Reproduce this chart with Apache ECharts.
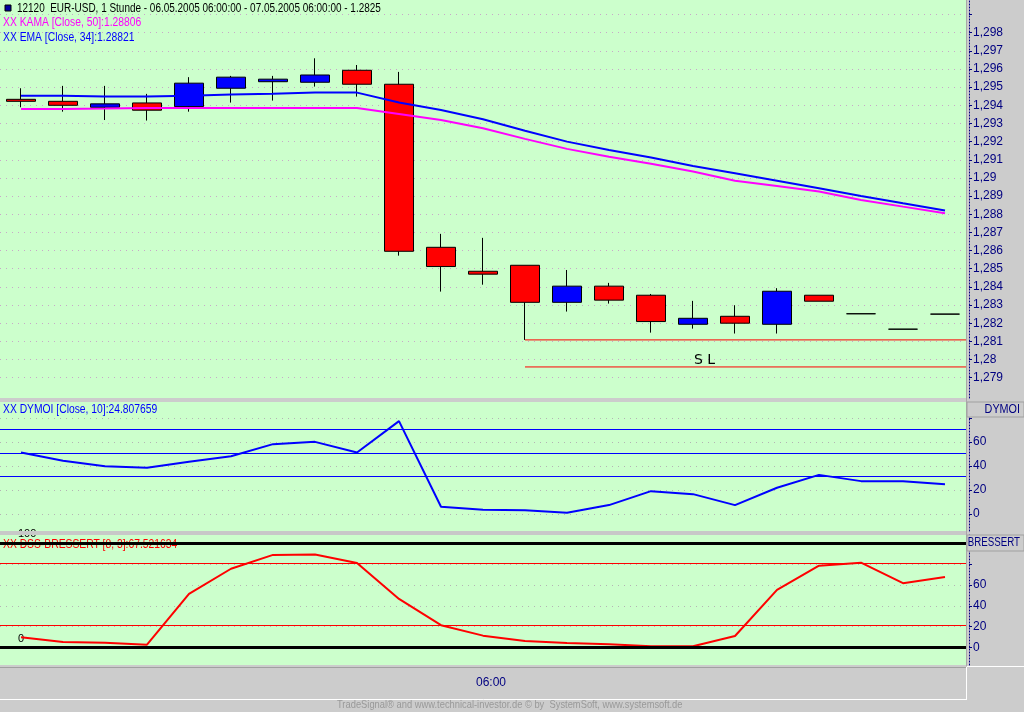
<!DOCTYPE html>
<html><head><meta charset="utf-8">
<script src="https://cdn.jsdelivr.net/npm/echarts@6/dist/echarts.min.js"></script>
<style>html,body{margin:0;padding:0;background:#cccccc;}#c{width:1024px;height:712px;}</style>
</head><body><div id="c"></div>
<script>
const categories = ['19:00','20:00','21:00','22:00','23:00','00:00','01:00','02:00','03:00','04:00','05:00','06:00','07:00','08:00','09:00','10:00','11:00','12:00','13:00','14:00','15:00','16:00','17:00'];
const opens  = [1.29433,1.29422,1.29389,1.29413,1.29393,1.29494,1.29530,1.29527,1.29593,1.29516,1.28618,1.28486,1.28519,1.28315,1.28404,1.28354,1.28194,1.28238,1.28194,1.28354,1.28252,1.28167,1.28250];
const closes = [1.29422,1.29400,1.29408,1.29373,1.29522,1.29555,1.29544,1.29567,1.29516,1.28596,1.28512,1.28470,1.28315,1.28404,1.28327,1.28209,1.28227,1.28200,1.28376,1.28321,1.28252,1.28167,1.28250];
const lows   = [1.29389,1.29365,1.29319,1.29316,1.29365,1.29415,1.29426,1.29503,1.29448,1.28572,1.28374,1.28412,1.28108,1.28264,1.28308,1.28148,1.28170,1.28143,1.28143,1.28321,1.28252,1.28167,1.28250];
const highs  = [1.29494,1.29507,1.29507,1.29463,1.29555,1.29562,1.29562,1.29659,1.29622,1.29584,1.28692,1.28670,1.28519,1.28493,1.28422,1.28361,1.28323,1.28299,1.28393,1.28354,1.28252,1.28167,1.28250];
const emaValues  = [1.29453,1.29453,1.29448,1.29448,1.29453,1.29459,1.29464,1.29470,1.29470,1.29416,1.29374,1.29323,1.29260,1.29200,1.29154,1.29112,1.29066,1.29026,1.28985,1.28943,1.28901,1.28860,1.28821];
const kamaValues = [1.29380,1.29380,1.29382,1.29385,1.29385,1.29385,1.29385,1.29385,1.29385,1.29352,1.29319,1.29274,1.29215,1.29160,1.29117,1.29078,1.29035,1.28985,1.28956,1.28925,1.28879,1.28842,1.28806];
const dymoiValues = [51.2,44.3,39.8,38.5,43.4,48.1,58.1,60.0,51.2,77.2,6.1,3.6,3.3,1.1,7.5,19.1,16.6,7.5,21.9,32.6,27.4,27.4,24.81];
const dssValues = [10.0,5.4,4.8,2.9,51.3,75.3,88.5,88.8,80.8,46.5,21.5,11.5,6.4,4.5,3.2,1.3,1.3,11.2,55.1,78.2,81.1,61.5,67.52];
const priceTicks = [1.279,1.28,1.281,1.282,1.283,1.284,1.285,1.286,1.287,1.288,1.289,1.29,1.291,1.292,1.293,1.294,1.295,1.296,1.297,1.298,1.299];
const priceLabels = [1.279,1.28,1.281,1.282,1.283,1.284,1.285,1.286,1.287,1.288,1.289,1.29,1.291,1.292,1.293,1.294,1.295,1.296,1.297,1.298];
const dymoiTicks = [0,20,40,60,80];
const dymoiLabels = [0,20,40,60];
const dymoiLevels = [70.3,50.3,31.3];
const dssTicks = [0,20,40,60,80,100];
const dssLabels = [0,20,40,60];
const dssBounds = [0,100];
const dssLevels = [21.2,80.3];
const slLevels = [1.28108,1.27959];
const slStart = 12.5;

const FONT = '"Liberation Sans", Arial, sans-serif';
const NAVY = '#000080';
const chart = echarts.init(document.getElementById('c'));
const candleData = categories.map((c,i)=>[opens[i],closes[i],lows[i],highs[i]]);
const priceFmt = v => v.toFixed(3).replace(/0+$/,'').replace(/\.$/,'').replace('.',',');

function rightAxis(gi, min, max, ticks, labels, fmt, gridColor){
  return {
    gridIndex: gi, type:'value', position:'right', offset:3, min, max,
    axisLine:{show:true, onZero:false, lineStyle:{color:NAVY, width:1, type:[1,2]}},
    axisTick:{show:true, length:3, customValues:ticks, lineStyle:{color:NAVY}},
    axisLabel:{customValues:labels, formatter:fmt, color:NAVY, fontSize:12, fontFamily:FONT, margin:4},
    splitLine:{show:true, lineStyle:{color:gridColor, width:1, type:[1,5]}}
  };
}
function txt(x,y,text,fill,size,opts){
  return Object.assign({type:'text', x, y, z:5, style:{text, fill, font: size+'px '+FONT, textAlign:'left', textVerticalAlign:'middle'}}, opts||{});
}

const option = {
  animation:false,
  backgroundColor:'#cccccc',
  grid:[
    {left:0, top:0, width:966, height:398, show:true, backgroundColor:'#ccffcc', borderWidth:0},
    {left:0, top:402, width:966, height:129, show:true, backgroundColor:'#ccffcc', borderWidth:0},
    {left:0, top:535, width:966, height:130, show:true, backgroundColor:'#ccffcc', borderWidth:0}
  ],
  xAxis:[
    {gridIndex:0, type:'category', data:categories, show:false, boundaryGap:true},
    {gridIndex:0, type:'value', min:0, max:categories.length, show:false},
    {gridIndex:1, type:'category', data:categories, show:false, boundaryGap:true},
    {gridIndex:2, type:'category', data:categories, show:false, boundaryGap:true}
  ],
  yAxis:[
    rightAxis(0, 1.27788, 1.2998, priceTicks, priceLabels, priceFmt, '#c8a8c8'),
    rightAxis(1, -14, 93.1, dymoiTicks, dymoiLabels, v=>String(v), '#b4b4b4'),
    rightAxis(2, -16.5, 107.5, dssTicks, dssLabels, v=>String(v), '#b4b4b4')
  ],
  series:[
    {type:'candlestick', xAxisIndex:0, yAxisIndex:0, data:candleData, barWidth:30,
     itemStyle:{color:'#0000ff', color0:'#ff0000', borderColor:'#000000', borderColor0:'#000000', borderColorDoji:'#000000', borderWidth:1}},
    ...slLevels.map(v=>({type:'line', xAxisIndex:1, yAxisIndex:0, data:[[slStart,v],[categories.length,v]], showSymbol:false, symbol:'none', lineStyle:{color:'#ff0000', width:1}, z:3})),
    {type:'line', xAxisIndex:0, yAxisIndex:0, data:kamaValues, showSymbol:false, symbol:'none', lineStyle:{color:'#ff00ff', width:2}, z:4},
    {type:'line', xAxisIndex:0, yAxisIndex:0, data:emaValues, showSymbol:false, symbol:'none', lineStyle:{color:'#0000ff', width:2}, z:5},
    {type:'line', xAxisIndex:2, yAxisIndex:1, data:dymoiValues, showSymbol:false, symbol:'none', lineStyle:{color:'#0000ff', width:2}, z:4,
     markLine:{silent:true, symbol:'none', label:{show:false}, data:dymoiLevels.map(v=>({yAxis:v, lineStyle:{color:'#0000ff', width:1, type:'solid'}}))}},
    {type:'line', xAxisIndex:3, yAxisIndex:2, data:dssValues, showSymbol:false, symbol:'none', lineStyle:{color:'#ff0000', width:2}, z:4,
     markLine:{silent:true, symbol:'none', label:{show:false}, data:[
       ...dssBounds.map(v=>({yAxis:v, lineStyle:{color:'#000000', width:3, type:'solid'}})),
       ...dssLevels.map(v=>({yAxis:v, lineStyle:{color:'#ff0000', width:1, type:'solid'}}))
     ]}}
  ],
  graphic:{elements:[
    {type:'rect', shape:{x:5,y:5,width:6,height:6}, style:{fill:'#0000a0', stroke:'#000', lineWidth:1}, z:5},
    txt(17, 9, '12120  EUR-USD, 1 Stunde - 06.05.2005 06:00:00 - 07.05.2005 06:00:00 - 1.2825', '#000000', 12, {scaleX:0.83}),
    txt(3, 23, 'XX KAMA [Close, 50]:1.28806', '#ff00ff', 12, {scaleX:0.86}),
    txt(3, 38, 'XX EMA [Close, 34]:1.28821', '#0000ff', 12, {scaleX:0.86}),
    txt(3, 410, 'XX DYMOI [Close, 10]:24.807659', '#0000ff', 12, {scaleX:0.86}),
    Object.assign(txt(3, 545, 'XX DSS-BRESSERT [8, 3]:67.521634', '#ff0000', 12, {scaleX:0.86}), {z:1}),
    Object.assign(txt(18, 534, '100', '#000000', 11), {z:1}),
    Object.assign(txt(18, 639, '0', '#000000', 11), {z:1}),
    {type:'rect', shape:{x:0,y:531,width:966,height:4}, style:{fill:'#c8c8c8'}, z:50},
    {type:'text', x:694, y:367, z:5, style:{text:'S L', fill:'#000', font:'14px "DejaVu Sans", sans-serif', textAlign:'left', textVerticalAlign:'bottom'}},
    {type:'line', shape:{x1:966.5,y1:0,x2:966.5,y2:666}, style:{stroke:'#a8a8a8', lineWidth:1}, z:50},
    {type:'rect', shape:{x:967,y:402,width:57,height:15}, style:{fill:'#cccccc', stroke:'#a0a0a0', lineWidth:1}, z:50},
    {type:'text', x:1020, y:410, z:51, scaleX:0.9, style:{text:'DYMOI', fill:NAVY, font:'12px '+FONT, textAlign:'right', textVerticalAlign:'middle'}},
    {type:'rect', shape:{x:967,y:535,width:57,height:16}, style:{fill:'#cccccc', stroke:'#a0a0a0', lineWidth:1}, z:50},
    {type:'text', x:1020, y:543, z:51, scaleX:0.81, style:{text:'BRESSERT', fill:NAVY, font:'12px '+FONT, textAlign:'right', textVerticalAlign:'middle'}},
    {type:'line', shape:{x1:0,y1:667.5,x2:966,y2:667.5}, style:{stroke:'#a0a0a0', lineWidth:1}, z:50},
    {type:'line', shape:{x1:0,y1:699.5,x2:967,y2:699.5}, style:{stroke:'#ffffff', lineWidth:1}, z:50},
    {type:'line', shape:{x1:966.5,y1:667,x2:966.5,y2:700}, style:{stroke:'#ffffff', lineWidth:1}, z:50},
    {type:'line', shape:{x1:967,y1:666.5,x2:1024,y2:666.5}, style:{stroke:'#ffffff', lineWidth:1}, z:50},
    {type:'text', x:491, y:683, z:51, style:{text:'06:00', fill:NAVY, font:'12px '+FONT, textAlign:'center', textVerticalAlign:'middle'}},
    {type:'text', x:337, y:705, z:51, scaleX:0.85, style:{text:'TradeSignal\u00ae and www.technical-investor.de \u00a9 by  SystemSoft, www.systemsoft.de', fill:'#999999', font:'11px '+FONT, textAlign:'left', textVerticalAlign:'middle'}}
  ]}
};
chart.setOption(option);
</script></body></html>
